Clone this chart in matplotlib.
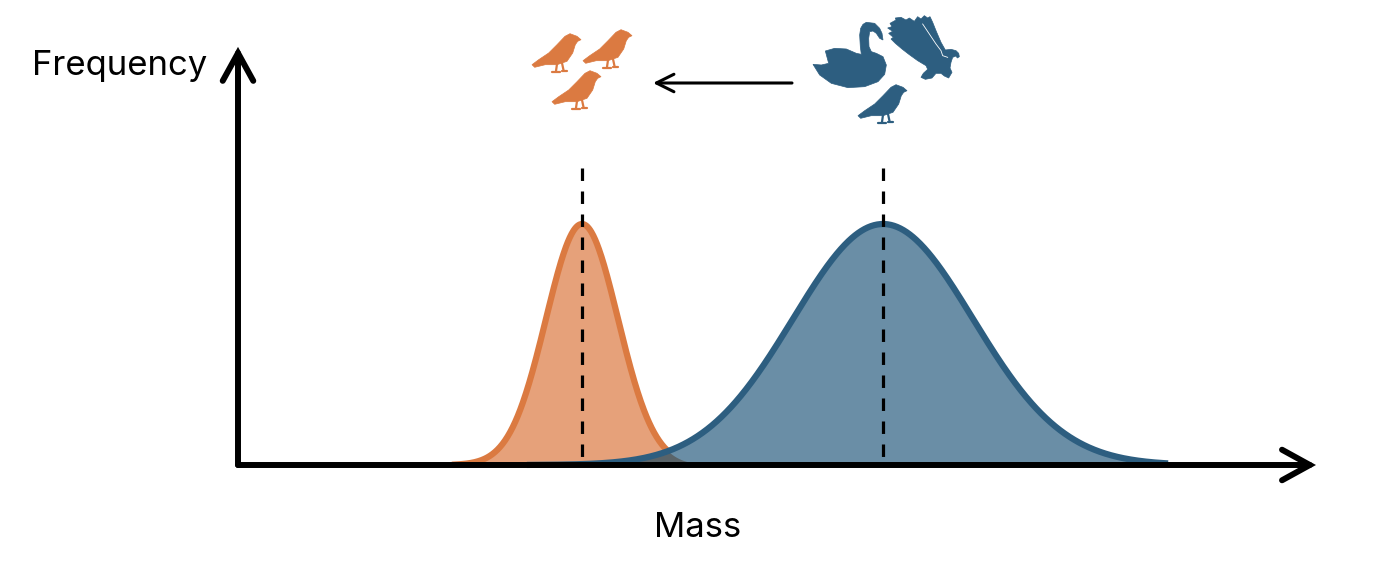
import numpy as np
import matplotlib.pyplot as plt
from matplotlib.patches import Polygon

# distribution parameters (mass in arbitrary units, frequency scaled to peak = 1)
small_mean = 3.44
small_sd = 0.36
small_range = (2.17, 4.70)
large_mean = 6.45
large_sd = 0.90
large_range = (2.92, 9.27)
peak = 1.0

x_label = "Mass"
y_label = "Frequency"

orange_line = "#DB7A41"
orange_fill = "#E6A17A"
blue_line = "#2D5E80"
blue_fill = "#6A8EA6"
overlap_fill = "#5A6469"


def curve(x, m, s):
    return peak*np.exp(-0.5*((x-m)/s)**2)


fig = plt.figure(figsize=(13.88, 5.68), dpi=100)
ax = fig.add_axes([0, 0, 1, 1])
ax.set_xlim(-2.38, 11.5)
ax.set_ylim(-0.4274, 1.9295)
ax.axis("off")

xs = np.linspace(small_range[0], small_range[1], 400)
ys = curve(xs, small_mean, small_sd)
xl = np.linspace(large_range[0], large_range[1], 800)
yl = curve(xl, large_mean, large_sd)
xo = np.linspace(large_range[0], small_range[1], 300)
yo = np.minimum(curve(xo, small_mean, small_sd), curve(xo, large_mean, large_sd))

ax.fill_between(xs, 0, ys, color=orange_fill, lw=0, zorder=1)
ax.plot(xs, ys, color=orange_line, lw=4.5, zorder=2)
ax.fill_between(xl, 0, yl, color=blue_fill, lw=0, zorder=3)
ax.fill_between(xo, 0, yo, color=overlap_fill, lw=0, zorder=4)
ax.plot(xl, yl, color=blue_line, lw=4.5, zorder=5)

# mean markers, drawn top-down so the pattern starts with a dash at the top
for m in [small_mean, large_mean]:
    ax.plot([m, m], [1.232, 0], color="black", lw=2.3,
            linestyle=(0, (3.9, 3.3)), zorder=6)

# axes as arrows
arr = dict(arrowstyle="->,head_length=1.0,head_width=0.55", lw=4.3,
           color="black", mutation_scale=20, shrinkA=0, shrinkB=0,
           capstyle="round", joinstyle="miter")
ax.annotate("", xy=(10.78, 0), xytext=(0.0, 0), arrowprops=arr, zorder=7)
ax.annotate("", xy=(0, 1.735), xytext=(0, 0.0), arrowprops=arr, zorder=7)

ax.text(-2.06, 1.618, y_label, fontsize=25, ha="left", va="baseline",
        family="Inter")
ax.text(4.595, -0.300, x_label, fontsize=25, ha="center", va="baseline",
        family="Inter")

# decoration layer in pixel units for the bird icons
deco = fig.add_axes([0, 0, 1, 1])
deco.set_xlim(0, 1388)
deco.set_ylim(568, 0)
deco.axis("off")
deco.patch.set_alpha(0)

bird = [(49, 6.7), (45, 3.3), (38, 0.7), (33, 3.3), (25, 11.7), (16.7, 20),
        (6.7, 26.7), (0, 31.7), (2.7, 34.3), (13.3, 31.7), (25, 31.7),
        (35, 28.3), (40.7, 20), (43.3, 11.7), (45.7, 8.3)]
legs = [[(25, 31), (24, 38)], [(20, 38.5), (28, 38.5)],
        [(30, 30), (31.5, 37)], [(30, 37.5), (35, 37.5)]]

swan = [(175, 22), (200, 25), (215, 40), (222, 55), (225, 75), (215, 70),
        (205, 55), (195, 48), (185, 50), (182, 70), (183, 95), (190, 110),
        (205, 115), (225, 125), (235, 150), (230, 178), (210, 200),
        (170, 215), (120, 218), (70, 205), (35, 180), (15, 148), (40, 150),
        (62, 145), (52, 108), (80, 100), (115, 102), (145, 115), (160, 118),
        (157, 95), (155, 60), (158, 40), (165, 28)]
eagle = [(12, 28), (30, 18), (28, 12), (45, 10), (60, 18), (70, 12), (85, 22),
         (95, 8), (105, 15), (115, 5), (125, 12), (132, 8), (140, 25),
         (150, 50), (165, 85), (178, 108), (195, 106), (210, 110),
         (218, 118), (220, 128), (214, 132), (210, 126), (200, 130),
         (195, 145), (192, 162), (198, 175), (188, 192), (175, 186),
         (165, 178), (150, 178), (138, 192), (118, 196), (105, 190),
         (112, 178), (125, 166), (120, 155), (95, 140), (70, 122), (48, 105),
         (28, 88), (15, 75), (22, 70), (8, 58), (20, 52), (5, 42), (18, 38)]
eagle_edge = [(110, 30), (130, 60), (150, 90), (165, 110), (170, 125),
              (185, 130)]


def draw_bird(x0, y0, color):
    pts = np.array(bird) + [x0, y0]
    deco.add_patch(Polygon(pts, closed=True, color=color, lw=0.5))
    for seg in legs:
        seg = np.array(seg) + [x0, y0]
        deco.plot(seg[:, 0], seg[:, 1], color=color, lw=1.6,
                  solid_capstyle="round")


for bx, by in [(532, 33), (583, 29), (552, 70)]:
    draw_bird(bx, by, orange_line)
draw_bird(858, 84, blue_line)

pts = np.array(swan)/3.0 + [808, 15]
deco.add_patch(Polygon(pts, closed=True, color=blue_line, lw=0.5))
pts = np.array(eagle)/3.0 + [886, 14]
deco.add_patch(Polygon(pts, closed=True, color=blue_line, lw=0.5))
edge = np.array(eagle_edge)/3.0 + [886, 14]
deco.plot(edge[:, 0], edge[:, 1], color="white", lw=0.6)

deco.annotate("", xy=(653, 83), xytext=(792, 83),
              arrowprops=dict(arrowstyle="->,head_length=0.9,head_width=0.45",
                              lw=2.2, color="black", mutation_scale=14,
                              shrinkA=0, shrinkB=0))

fig.savefig("out.png", dpi=100)
